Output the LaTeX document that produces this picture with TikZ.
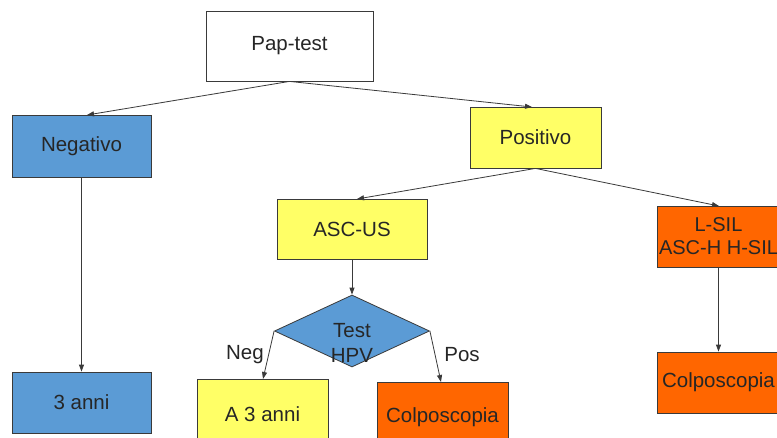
\documentclass[tikz,border=0pt]{standalone}
\usepackage{fontspec}
\setmainfont{Liberation Sans}
\usetikzlibrary{arrows.meta,shapes.geometric}
\definecolor{bblue}{HTML}{5B9BD5}
\definecolor{byellow}{HTML}{FFFF66}
\definecolor{borange}{HTML}{FF6600}
\definecolor{lgray}{HTML}{3A3A3A}
\tikzset{
  box/.style={draw=lgray, line width=0.8pt, rectangle, inner sep=0pt, font=\fontsize{20.5}{24}\selectfont, text=black!85},
  conn/.style={draw=lgray, line width=0.8pt, -{Triangle[length=7pt,width=5pt]}},
  lbl/.style={font=\fontsize{20.5}{24}\selectfont, text=black!85, inner sep=0pt}
}
\begin{document}
\begin{tikzpicture}[x=1pt,y=-1pt]
\useasboundingbox (0,0) rectangle (777,437);
\clip (0,0) rectangle (777,437);
\fill[white] (0,0) rectangle (777,437);
\node[box, fill=white, minimum width=167pt, minimum height=70pt] (pap) at (289.5,46) {Pap-test};
\node[box, fill=bblue, minimum width=139pt, minimum height=62pt] (neg) at (81.5,146) {Negativo};
\node[box, fill=byellow, minimum width=131pt, minimum height=61pt] (pos) at (535.5,137.5) {Positivo};
\node[box, fill=byellow, minimum width=150pt, minimum height=60pt] (ascus) at (352,229) {ASC-US};
\node[box, fill=borange, minimum width=123pt, minimum height=61pt, align=center, font=\fontsize{20}{23}\selectfont] (lsil) at (718.5,236.5) {L-SIL\\ASC-H H-SIL};
\node[draw=lgray, line width=0.8pt, diamond, fill=bblue, inner sep=0pt, aspect=2.15, minimum width=155pt, minimum height=72pt] (hpv) at (352,331) {};
\node[lbl, align=center, font=\fontsize{20.5}{25}\selectfont] (hpvt) at (352,343) {Test\\HPV};
\node[box, fill=bblue, minimum width=139pt, minimum height=61pt] (tre) at (81.5,402.5) {3 anni};
\node[box, fill=byellow, minimum width=131pt, minimum height=70pt] (a3) at (262.5,414) {A 3 anni};
\node[box, fill=borange, minimum width=131pt, minimum height=70pt] (col1) at (442.5,417) {Colposcopia};
\node[box, fill=borange, minimum width=123pt, minimum height=61pt] (col2) at (718.5,382.5) {Colposcopia};
\node[lbl] (nlab) at (245,355) {Neg};
\node[lbl] (plab) at (462,355) {Pos};
\draw[conn] (pap.south) -- (87,115);
\draw[conn] (pap.south) -- (532,107);
\draw[conn] (neg.south) -- (tre.north);
\draw[conn] (pos.south) -- (357,199);
\draw[conn] (pos.south) -- (719,206);
\draw[conn] (ascus.south) -- (hpv.north);
\draw[conn] (hpv.west) -- (263,379);
\draw[conn] (hpv.east) -- (441,382);
\draw[conn] (lsil.south) -- (col2.north);
\end{tikzpicture}
\end{document}
